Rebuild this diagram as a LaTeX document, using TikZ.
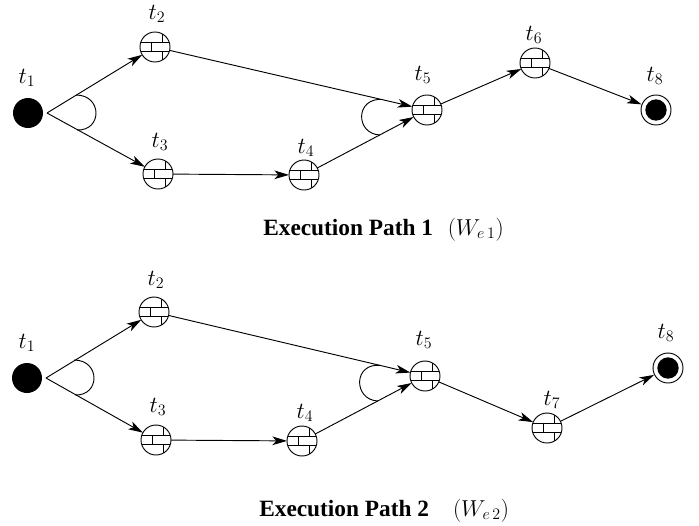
\documentclass[tikz,border=0pt]{standalone}
\usepackage{fontspec}
\setmainfont{Liberation Serif}
\usetikzlibrary{arrows.meta}
\tikzset{
  x=0.75pt,y=-0.75pt,
  task/.style={circle,draw,line width=0.7pt,minimum size=22.5pt,inner sep=0pt,outer sep=0pt},
  startnode/.style={circle,fill=black,minimum size=22.5pt,inner sep=0pt,outer sep=0pt},
  flow/.style={line width=0.7pt,-{Stealth[length=11pt,width=6.5pt,inset=3pt]}},
  lbl/.style={font=\fontsize{17}{20}\selectfont,inner sep=0pt},
  captext/.style={font=\fontsize{17.5}{20}\selectfont,inner sep=0pt},
  andarc/.style={line width=0.7pt},
  brick/.pic={
    \begin{scope}
      \clip (0,0) circle (15);
      \draw[line width=0.7pt] (-15,-4.5) -- (15,-4.5) (-15,4.5) -- (15,4.5)
        (-3.5,-4.5) -- (-3.5,4.5) (7,-15) -- (7,-4.5) (7,4.5) -- (7,15);
    \end{scope}
  }
}
\newcommand{\tasknode}[3]{\node[task] (#1) at (#2,#3) {}; \pic at (#2,#3) {brick};}
\newcommand{\wlabel}[2]{{\fontsize{17}{20}\selectfont$(W_{#1\,#2})$}}
\begin{document}
\begin{tikzpicture}
\useasboundingbox (0,0) rectangle (699,525);
% Path 1
\node[startnode] (a1) at (28,113) {};
\tasknode{a2}{155}{47}
\tasknode{a3}{158}{174}
\tasknode{a4}{304}{175}
\tasknode{a5}{427}{110}
\tasknode{a6}{535}{63}
\node[circle,draw,line width=0.7pt,minimum size=22.5pt,inner sep=0pt] (a8) at (656,110) {};
\node[circle,fill=black,minimum size=16pt,inner sep=0pt] (a8i) at (656,110) {};
\coordinate (as) at (47,113);
\draw[flow] (as) -- (a2);
\draw[flow] (as) -- (a3);
\draw[flow] (a2) -- (a5);
\draw[flow] (a3) -- (a4);
\draw[flow] (a4) -- (a5);
\draw[flow] (a5) -- (a6);
\draw[flow] (a6) -- (a8);
\draw[andarc] (76,95) .. controls (102.5,95) and (102.5,131) .. (77,130);
\draw[andarc] (383,99.5) .. controls (355,97) and (355,134) .. (380,135);
\node[lbl] (la1) at (27,78) {$t_1$};
\node[lbl] (la2) at (157,14) {$t_2$};
\node[lbl] (la3) at (160,142) {$t_3$};
\node[lbl] (la4) at (306,148) {$t_4$};
\node[lbl] (la5) at (423,75) {$t_5$};
\node[lbl] (la6) at (534,35) {$t_6$};
\node[lbl] (la8) at (655,76) {$t_8$};
\node[captext,anchor=base west] (ca) at (263,235.5) {\textbf{Execution Path 1}\hspace{11pt}\wlabel{e}{1}};
% Path 2
\node[startnode] (b1) at (27,378) {};
\tasknode{b2}{154}{312}
\tasknode{b3}{156}{440}
\tasknode{b4}{302}{441}
\tasknode{b5}{425}{376}
\tasknode{b7}{547}{428}
\node[circle,draw,line width=0.7pt,minimum size=22.5pt,inner sep=0pt] (b8) at (668,368) {};
\node[circle,fill=black,minimum size=16pt,inner sep=0pt] (b8i) at (668,368) {};
\coordinate (bs) at (46,378);
\draw[flow] (bs) -- (b2);
\draw[flow] (bs) -- (b3);
\draw[flow] (b2) -- (b5);
\draw[flow] (b3) -- (b4);
\draw[flow] (b4) -- (b5);
\draw[flow] (b5) -- (b7);
\draw[flow] (b7) -- (b8);
\draw[andarc] (74,360) .. controls (100.5,360) and (100.5,396) .. (75,395);
\draw[andarc] (381,365.5) .. controls (353,362) and (353,400) .. (378,401);
\node[lbl] (lb1) at (27,343) {$t_1$};
\node[lbl] (lb2) at (156,280) {$t_2$};
\node[lbl] (lb3) at (158,407) {$t_3$};
\node[lbl] (lb4) at (305,413) {$t_4$};
\node[lbl] (lb5) at (424,340) {$t_5$};
\node[lbl] (lb7) at (552,400) {$t_7$};
\node[lbl] (lb8) at (666,333) {$t_8$};
\node[captext,anchor=base west] (cb) at (259,516) {\textbf{Execution Path 2}\hspace{18pt}\wlabel{e}{2}};
\end{tikzpicture}
\end{document}
